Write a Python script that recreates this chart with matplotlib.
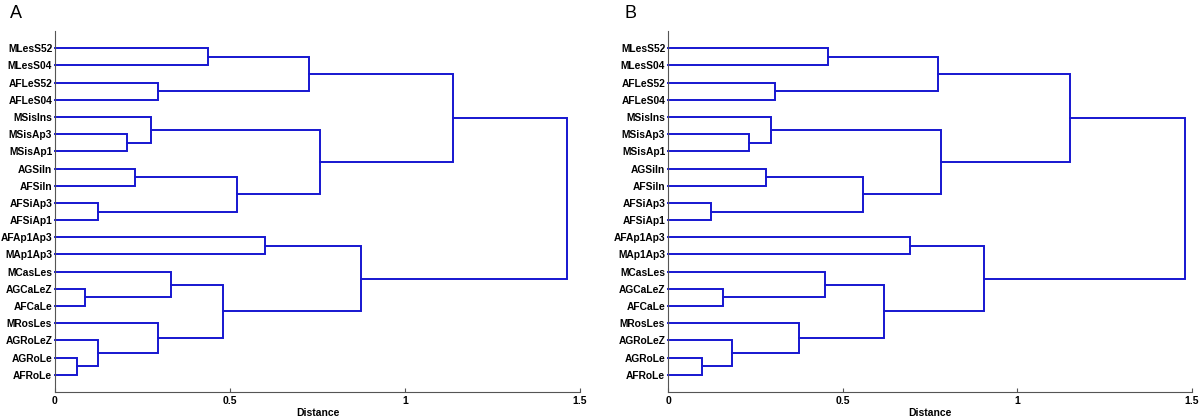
import matplotlib
matplotlib.use("Agg")
import matplotlib.pyplot as plt

plt.rcParams['font.family'] = ['Liberation Sans', 'DejaVu Sans']

leaves = ["MLesS52", "MLesS04", "AFLeS52", "AFLeS04", "MSisIns", "MSisAp3",
          "MSisAp1", "AGSiIn", "AFSiIn", "AFSiAp3", "AFSiAp1", "AFAp1Ap3",
          "MAp1Ap3", "MCasLes", "AGCaLeZ", "AFCaLe", "MRosLes", "AGRoLeZ",
          "AGRoLe", "AFRoLe"]

# merge structure (node ids start at len(leaves))
merge_left = [18, 14, 9, 17, 5, 7, 4, 2, 16, 13, 0, 29, 25, 11, 30, 26, 33, 34, 37]
merge_right = [19, 15, 10, 20, 6, 8, 24, 3, 23, 21, 1, 28, 22, 12, 27, 32, 31, 35, 36]

heights_A = [0.064, 0.087, 0.122, 0.123, 0.205, 0.228, 0.274, 0.294, 0.294, 0.330,
             0.438, 0.481, 0.519, 0.599, 0.725, 0.757, 0.874, 1.136, 1.463]
heights_B = [0.096, 0.157, 0.122, 0.182, 0.231, 0.281, 0.296, 0.305, 0.375, 0.448,
             0.458, 0.618, 0.557, 0.692, 0.773, 0.782, 0.906, 1.150, 1.481]

xticks = [0, 0.5, 1, 1.5]
xticklabels = ["0", "0.5", "1", "1.5"]

LINE = "#1616d0"


def draw(ax, heights):
    n = len(leaves)
    pos = {i: (0.0, i + 1.0) for i in range(n)}
    for k, (a, b) in enumerate(zip(merge_left, merge_right)):
        h = heights[k]
        xa, ya = pos[a]
        xb, yb = pos[b]
        ax.plot([xa, h, h, xb], [ya, ya, yb, yb], color=LINE, lw=1.4,
                solid_joinstyle='miter', clip_on=False)
        pos[n + k] = (h, (ya + yb) / 2.0)
    ax.set_xlim(0, 1.5)
    ax.set_ylim(n + 1, 0)
    ax.set_yticks(range(1, n + 1))
    ax.set_yticklabels(leaves, fontsize=7.4, fontweight='bold')
    ax.set_xticks(xticks)
    ax.set_xticklabels(xticklabels, fontsize=7.5, fontweight='bold')
    ax.tick_params(axis='y', length=0, pad=2)
    ax.tick_params(axis='x', direction='in', length=3, pad=3, color='#555555')
    for s in ['top', 'right']:
        ax.spines[s].set_visible(False)
    for s in ['left', 'bottom']:
        ax.spines[s].set_color('#555555')
        ax.spines[s].set_linewidth(0.8)
    ax.set_xlabel("Distance", fontsize=7.5, fontweight='bold', labelpad=1)


fig = plt.figure(figsize=(12, 4.2), dpi=100)
axA = fig.add_axes([55 / 1200, 28 / 420, 525 / 1200, 361 / 420])
axB = fig.add_axes([668 / 1200, 28 / 420, 524 / 1200, 361 / 420])
draw(axA, heights_A)
draw(axB, heights_B)
fig.text(10 / 1200, 1 - 13 / 420, "A", fontsize=13, va='center', ha='left')
fig.text(624 / 1200, 1 - 13 / 420, "B", fontsize=13, va='center', ha='left')
fig.savefig("out.png", dpi=100, facecolor='white')
